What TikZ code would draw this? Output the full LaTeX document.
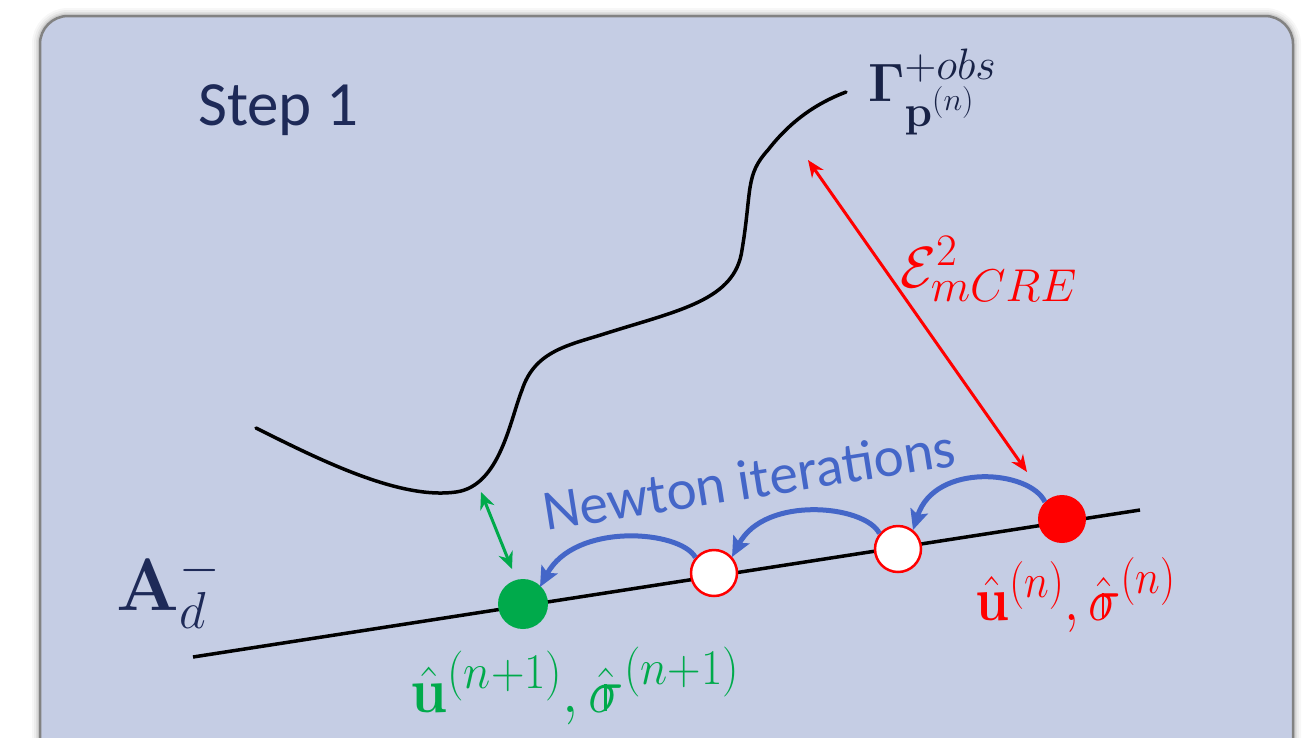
\documentclass[tikz,border=0pt]{standalone}
\usepackage{fix-cm}
\usepackage{amsmath}
\usepackage[no-math]{fontspec}
\newfontfamily\carlito{Carlito}
\usetikzlibrary{arrows.meta}
\definecolor{bgbox}{RGB}{197,205,228}
\definecolor{navy}{RGB}{30,42,88}
\definecolor{nblue}{RGB}{68,102,200}
\definecolor{mgreen}{RGB}{0,170,75}
\definecolor{frame}{RGB}{130,130,130}
\newcommand{\bsp}[2]{\mbox{\fontsize{#1}{#1}\selectfont$#2$}}
\newcommand{\dsig}{\ooalign{$\sigma$\cr\hidewidth\rule[0.02ex]{0.05em}{1.0ex}\hspace{0.05em}\hidewidth\cr}}
\tikzset{
  blk/.style={line width=3.5pt, black},
  wc/.style={circle, draw=red, line width=2.5pt, fill=white, minimum size=46pt, inner sep=0pt},
  rc/.style={circle, fill=red, minimum size=48pt, inner sep=0pt},
  gc/.style={circle, fill=mgreen, minimum size=50pt, inner sep=0pt},
  newt/.style={nblue, line width=5pt, -{Stealth[length=20pt,width=18pt,inset=4pt]}},
  lbl/.style={inner sep=0pt},
}
\begin{document}
\begin{tikzpicture}[x=1pt,y=-1pt]
\useasboundingbox (0,0) rectangle (1306,737);
\fill[white] (0,0) rectangle (1306,737);
% soft shadow
\foreach \w/\o in {16/0.03,12/0.04,8/0.06,5/0.08}{
  \draw[black, opacity=\o, line width=\w pt, rounded corners=28pt] (40,16) rectangle (1293,780);
}
\draw[frame, fill=bgbox, line width=2.5pt, rounded corners=28pt] (40,16) rectangle (1293,780);

% text
\node[lbl, anchor=base west, text=navy] (step) at (198,125) {\carlito\fontsize{63}{70}\selectfont Step 1};

% curve Gamma
\draw[blk, line cap=round] (256,428) .. controls (320,460) and (400,500) .. (456,492)
  .. controls (500,486) and (510,420) .. (522,390)
  .. controls (535,350) and (570,345) .. (607,333)
  .. controls (680,310) and (735,300) .. (742,250)
  .. controls (752,190) and (745,175) .. (768,150)
  .. controls (795,115) and (825,100) .. (846,92);

% line A_d
\coordinate (L1) at (193,657);
\coordinate (L2) at (1140,510);
\draw[blk] (L1) -- (L2);

% circles
\node[gc] (g) at (523,604) {};
\node[wc] (w1) at (714,573) {};
\node[wc] (w2) at (898,549) {};
\node[rc] (r) at (1062,519) {};

% labels
\node[lbl, anchor=base west, text=navy!80!black] (gam) at (868,101) {\fontsize{54}{60}\selectfont$\mathbf{\Gamma}^{\bsp{44}{+obs}}_{\bsp{44}{\mathbf{p}^{\bsp{32}{(n)}}}}$};
\node[lbl, anchor=base west, text=red] (emcre) at (900,287) {\fontsize{58}{64}\selectfont$\mathcal{E}^{\bsp{45}{2}}_{\bsp{46}{mCRE}}$};
\node[lbl, anchor=base west, text=navy] (ad) at (116,610) {\fontsize{74}{80}\selectfont$\mathbf{A}^{\bsp{52}{-}}_{\bsp{52}{d}}$};
\node[lbl, anchor=base west, text=red, xscale=0.88, transform shape] (ulab) at (975,620) {\fontsize{62}{68}\selectfont$\hat{\mathbf{u}}^{\bsp{48}{(n)}},\hat{\mbox{\dsig}}^{\bsp{48}{(n)}}$};
\node[lbl, anchor=base west, text=mgreen, xscale=0.93, transform shape] (glab) at (410,712) {\fontsize{64}{70}\selectfont$\hat{\mathbf{u}}^{\bsp{50}{(n{+}1)}},\hat{\mbox{\dsig}}^{\bsp{50}{(n{+}1)}}$};
\node[lbl, anchor=base west, text=nblue, rotate=9] (newton) at (546,531) {\carlito\fontsize{57}{62}\selectfont Newton iterations};

% red double arrow
\coordinate (ra) at (808,160);
\coordinate (rb) at (1027,472);
\draw[red, line width=3pt, {Stealth[length=17pt,width=14pt]}-{Stealth[length=17pt,width=14pt]}] (ra) -- (rb);

% green double arrow
\coordinate (ga) at (481,492);
\coordinate (gb) at (512,569);
\draw[mgreen, line width=3pt, {Stealth[length=17pt,width=15pt]}-{Stealth[length=17pt,width=15pt]}] (ga) -- (gb);

% Newton arrows
\draw[newt] (r.135) .. controls (1030,470) and (935,462) .. (913,530);
\draw[newt] (w2.140) .. controls (865,505) and (765,495) .. (732,557);
\draw[newt] (w1.140) .. controls (680,530) and (575,522) .. (540,587);
\end{tikzpicture}
\end{document}
